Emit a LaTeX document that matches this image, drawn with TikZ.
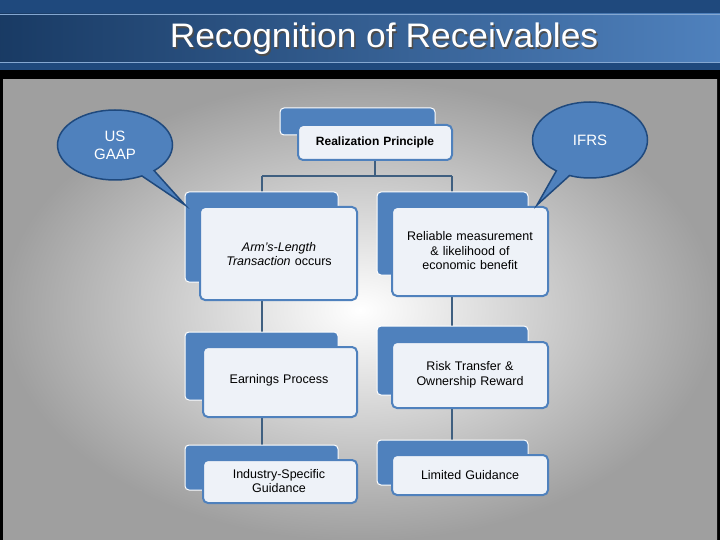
\documentclass[tikz,border=0pt]{standalone}
\usepackage{fontspec}
\setmainfont{Liberation Sans}
\usetikzlibrary{shapes.callouts}
\definecolor{bblue}{HTML}{4F81BD}
\definecolor{dblue}{HTML}{1F497D}
\definecolor{lnc}{HTML}{3F5F80}
\definecolor{frontc}{HTML}{EEF2F8}
\tikzset{x=1pt,y=-1pt,
 back/.style={fill=bblue,draw=white,line width=1pt,rounded corners=4pt},
 front/.style={fill=frontc,draw=bblue,line width=2pt,rounded corners=5pt},
 conn/.style={draw=lnc,line width=2pt},
 btxt/.style={font=\fontsize{12.5}{14.5}\selectfont,align=center,text width=150pt},
 bubble/.style={ellipse callout,fill=bblue,draw=dblue,line width=1.5pt,minimum width=115pt,minimum height=70pt,text=white,font=\fontsize{15}{18}\selectfont,align=center},
 ttl/.style={font=\fontsize{34}{38}\selectfont,xscale=1.04}}
\begin{document}
\begin{tikzpicture}
\useasboundingbox (0,0) rectangle (720,540);
\fill[black] (0,0) rectangle (720,540);
\fill[dblue] (0,0) rectangle (720,70);
\shade[left color=dblue!80!black,right color=bblue] (0,14) rectangle (720,62);
\draw[bblue!70!white] (0,14) -- (720,14) (0,62) -- (720,62);
\shade[inner color=white,outer color=gray!75] (3,80) rectangle (717,540);
\node[ttl,text=black!70] at (385.5,40.5) {Recognition of Receivables};
\node[ttl,text=white] (title) at (384,39) {Recognition of Receivables};
% connectors
\coordinate (j) at (375,176);
\coordinate (jl) at (262,176);
\coordinate (jr) at (452,176);
\coordinate (bl) at (262,500);
\coordinate (br) at (452,490);
\draw[conn] (375,150) -- (j) (jl) -- (jr) (jl) -- (bl) (jr) -- (br);
% boxes
\newcommand{\dbox}[9]{%
 \filldraw[back] (#1,#2) rectangle (#3,#4);
 \filldraw[front] (#5,#6) rectangle (#7,#8);
 #9}
\dbox{280}{108}{435}{135}{298}{125}{452}{160}{\node[btxt,font=\bfseries\fontsize{12}{14}\selectfont] (rp) at (375,142) {Realization Principle};}
\dbox{185}{192}{338}{282}{200}{207}{357}{300}{\node[btxt] (al) at (279,254) {\itshape Arm's-Length\\ Transaction \upshape occurs};}
\dbox{377}{192}{528}{275}{392}{207}{548}{296}{\node[btxt] (rm) at (470,251) {Reliable measurement\\ \& likelihood of\\ economic benefit};}
\dbox{185}{332}{338}{400}{203}{347}{357}{417}{\node[btxt] (ep) at (279,380) {Earnings Process};}
\dbox{377}{326}{528}{395}{392}{342}{548}{408}{\node[btxt] (rt) at (470,375) {Risk Transfer \&\\ Ownership Reward};}
\dbox{185}{445}{338}{490}{203}{460}{357}{503}{\node[btxt] (is) at (279,481) {Industry-Specific\\ Guidance};}
\dbox{377}{440}{528}{485}{392}{455}{548}{495}{\node[btxt] (lg) at (470,475) {Limited Guidance};}
% bubbles
\node[bubble,callout absolute pointer={(185,205)}] (us) at (115,145) {US\\GAAP};
\node[bubble,callout absolute pointer={(537,205)},minimum height=76pt] (ifrs) at (590,140) {IFRS};
\end{tikzpicture}
\end{document}
